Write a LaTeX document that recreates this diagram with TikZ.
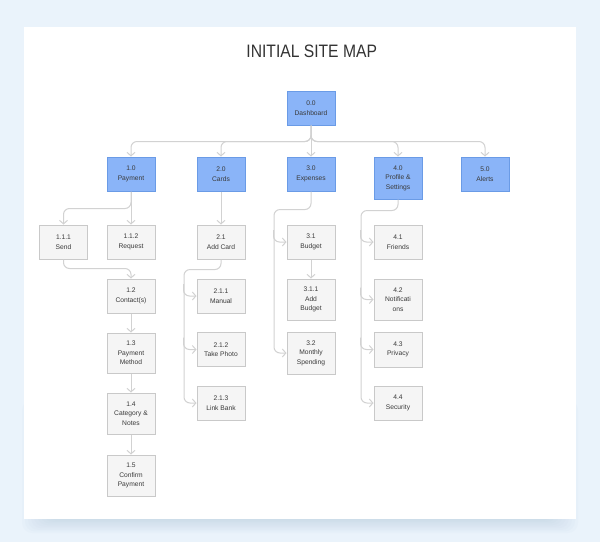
\documentclass[tikz,border=0pt]{standalone}
\usepackage{fontspec}
\setmainfont{Liberation Sans}
\newfontfamily\titlefont[FakeStretch=0.87]{Liberation Sans}
\usetikzlibrary{arrows.meta}
\definecolor{bgc}{HTML}{EAF3FB}
\definecolor{shadowc}{HTML}{9FB9D3}
\definecolor{bluefill}{HTML}{8AB4F8}
\definecolor{blueline}{HTML}{6A9BE6}
\definecolor{grayfill}{HTML}{F5F5F5}
\definecolor{grayline}{HTML}{C9C9C9}
\definecolor{linec}{HTML}{D2D2D2}
\definecolor{txt}{HTML}{3A3A3A}
\definecolor{titlec}{HTML}{333333}
\begin{document}
\begin{tikzpicture}[x=1pt,y=-1pt,
  box/.style={draw=grayline, fill=grayfill, line width=1pt, minimum width=48pt,
    minimum height=34pt, inner sep=0pt, align=center,
    font=\fontsize{6.7}{9.6}\selectfont, text=txt},
  bluebox/.style={box, draw=blueline, fill=bluefill},
  tallbox/.style={minimum height=41pt},
  shadowlayer/.style={fill=shadowc, opacity=0.045, rounded corners=10pt},
  conn/.style={draw=linec, line width=1pt, rounded corners=6pt,
    -{Straight Barb[length=3.5pt,width=8pt]}}]
\useasboundingbox (0,0) rectangle (600,542);
\fill[bgc] (0,0) rectangle (600,542);
\foreach \i in {1,...,10} {
  \fill[shadowlayer] ({52-3*\i},400) rectangle ({548+3*\i},{517+1.6*\i});
}
\fill[white] (24,27) rectangle (576,519);

\node[font=\titlefont\fontsize{18}{20}\selectfont, text=titlec, anchor=base] (title) at (311.7,57.7) {INITIAL SITE MAP};

% level 0 and 1
\node[bluebox] (d) at (311,108) {0.0\\Dashboard};
\node[bluebox] (p1) at (131,174) {1.0\\Payment};
\node[bluebox] (c2) at (221,174) {2.0\\Cards};
\node[bluebox] (e3) at (311,174) {3.0\\Expenses};
\node[bluebox, minimum height=42pt] (pr4) at (398,178) {4.0\\Profile \&\\Settings};
\node[bluebox] (a5) at (485,174) {5.0\\Alerts};

% payment column
\node[box] (s111) at (63.5,242) {1.1.1\\Send};
\node[box] (s112) at (131,242) {1.1.2\\Request};
\node[box] (s12) at (131,296) {1.2\\Contact(s)};
\node[box, minimum height=40pt] (s13) at (131,353) {1.3\\Payment\\Method};
\node[box, tallbox] (s14) at (131,413.5) {1.4\\Category \&\\Notes};
\node[box, tallbox] (s15) at (131,475.5) {1.5\\Confirm\\Payment};

% cards column
\node[box] (c21) at (221,242) {2.1\\Add Card};
\node[box] (c211) at (221,296) {2.1.1\\Manual};
\node[box] (c212) at (221,349.5) {2.1.2\\Take Photo};
\node[box] (c213) at (221,403) {2.1.3\\Link Bank};

% expenses column
\node[box] (e31) at (311,242) {3.1\\Budget};
\node[box, tallbox] (e311) at (311,299.5) {3.1.1\\Add\\Budget};
\node[box, minimum height=42pt] (e32) at (311,353) {3.2\\Monthly\\Spending};

% profile column
\node[box] (f41) at (398,242) {4.1\\Friends};
\node[box, tallbox] (f42) at (398,299.5) {4.2\\Notificati\\ons};
\node[box, minimum height=35pt] (f43) at (398,349.5) {4.3\\Privacy};
\node[box] (f44) at (398,403) {4.4\\Security};

% connectors from dashboard
\draw[conn] (d.south) -- ++(0,16) -| (p1.north);
\draw[conn] (d.south) -- ++(0,16) -| (c2.north);
\draw[conn] (d.south) -- (e3.north);
\draw[conn] (d.south) -- ++(0,16) -| (pr4.north);
\draw[conn] (d.south) -- ++(0,16) -| (a5.north);

% payment
\draw[conn] (p1.south) -- ++(0,17) -| (s111.north);
\draw[conn] (p1.south) -- (s112.north);
\draw[conn] (s111.south) -- ++(0,9) -| (s12.north);
\draw[conn] (s12.south) -- (s13.north);
\draw[conn] (s13.south) -- (s14.north);
\draw[conn] (s14.south) -- (s15.north);

% cards
\draw[conn] (c2.south) -- (c21.north);
\coordinate (cbus) at (184,0);
\draw[conn] (c21.south) -- ++(0,10) -| (cbus |- c213.west) -- (c213.west);
\coordinate (b211) at ([xshift=-13pt,yshift=12pt]c211.west);
\coordinate (b212) at ([xshift=-13pt,yshift=12pt]c212.west);
\draw[conn] (b211) |- (c211.west);
\draw[conn] (b212) |- (c212.west);

% expenses
\draw[conn] (e31.south) -- (e311.north);
\coordinate (ebus) at (274,0);
\draw[conn] (e3.south) -- ++(0,18) -| (ebus |- e32.west) -- (e32.west);
\coordinate (b31) at ([xshift=-13pt,yshift=12pt]e31.west);
\draw[conn] (b31) |- (e31.west);

% profile
\coordinate (fbus) at (361,0);
\draw[conn] (pr4.south) -- ++(0,11) -| (fbus |- f44.west) -- (f44.west);
\coordinate (b41) at ([xshift=-13pt,yshift=12pt]f41.west);
\coordinate (b42) at ([xshift=-13pt,yshift=12pt]f42.west);
\coordinate (b43) at ([xshift=-13pt,yshift=12pt]f43.west);
\draw[conn] (b41) |- (f41.west);
\draw[conn] (b42) |- (f42.west);
\draw[conn] (b43) |- (f43.west);
\end{tikzpicture}
\end{document}
